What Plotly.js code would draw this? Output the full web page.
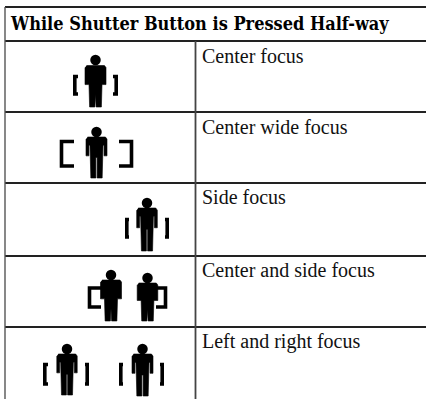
<!DOCTYPE html>
<html><head><meta charset="utf-8">
<script src="https://cdn.plot.ly/plotly-3.0.1.min.js"></script>
<style>html,body{margin:0;padding:0;background:#fff}</style></head>
<body><div id="c" style="width:426px;height:399px"></div>
<script>
const headerText = "While Shutter Button is Pressed Half-way";
const rowLabels = ["Center focus","Center wide focus","Side focus","Center and side focus","Left and right focus"];
const labelY = [55.5,126.5,197,269.5,341];
const rowLineY = [7,41,112,183,256,327];
const leftX = 5, midX = 195.5;

// figures: centre x, head y, shoulder y, foot y, half width, has slits
const figX = [95.5,96.5,147,111,147.5,67,142.5];
const figHead = [60,132,203,275,278,349,349];
const figShoulder = [65.5,137,208,280,283,354,354];
const figFoot = [107,178,251,321,321,395,396];
const figHalf = [10.5,10.5,10.3,10.5,10.3,10.2,10.5];
const figSlit = [0,1,1,0,0,1,1];

// brackets as open polylines
const bracketX = [
 [78,74.8,74.8,78],[113,116.2,116.2,113],
 [74,61.5,61.5,74],[119,131.5,131.5,119],
 [129,126.8,126.8,129],[165,167.2,167.2,165],
 [101,89.5,89.5,101],[156,165.5,165.5,156],
 [48,44.8,44.8,48],[85,87.2,87.2,85],
 [123,120.8,120.8,123],[160,162.2,162.2,160]];
const bracketY = [
 [76.5,76.5,94,94],[76.5,76.5,94,94],
 [141.5,141.5,166,166],[141.5,141.5,166,166],
 [219.5,219.5,237,237],[219.5,219.5,237,237],
 [288,288,307,307],[288,288,307,307],
 [364.5,364.5,384,384],[364.5,364.5,384,384],
 [364.5,364.5,384,384],[364.5,364.5,384,384]];

// silhouette outline: dx in half-widths, dy as fraction shoulder-to-foot
const solidDX = [-.85,.85,1,1,.62,.56,.06,0,-.06,-.56,-.62,-1,-1];
const solidDY = [0,0,.05,.46,.46,1,1,.7,1,1,.46,.46,.05];
const slitDX = [-.85,.85,1,1,.72,.72,.62,.54,.06,.06,-.06,-.06,-.54,-.62,-.72,-.72,-1,-1];
const slitDY = [0,0,.05,.46,.46,.2,.2,1,1,.5,.5,1,1,.2,.2,.46,.46,.05];

const ink = "#000";
const rule = "#222";
const traces = [];

rowLineY.forEach((y,i)=>traces.push({x:[leftX,426],y:[y,y],mode:"lines",line:{color:rule,width:1.8},hoverinfo:"skip"}));
traces.push({x:[leftX,leftX],y:[rowLineY[0],399],mode:"lines",line:{color:"#555",width:1.4},hoverinfo:"skip"});
traces.push({x:[midX,midX],y:[rowLineY[1],399],mode:"lines",line:{color:"#444",width:1.8},hoverinfo:"skip"});

bracketX.forEach((xs,i)=>traces.push({x:xs,y:bracketY[i],mode:"lines",line:{color:ink,width:3.6},hoverinfo:"skip"}));

figX.forEach((cx,i)=>{
  const dx = figSlit[i]?slitDX:solidDX, dy = figSlit[i]?slitDY:solidDY;
  traces.push({
    x:dx.map(d=>cx+d*figHalf[i]),
    y:dy.map(d=>figShoulder[i]+d*(figFoot[i]-figShoulder[i])),
    mode:"lines",fill:"toself",fillcolor:ink,line:{color:ink,width:0.6},hoverinfo:"skip"});
});
traces.push({x:figX,y:figHead,mode:"markers",marker:{color:ink,size:10.5,line:{width:0}},hoverinfo:"skip"});

const annotations = rowLabels.map((t,i)=>({
  text:t,x:200,y:labelY[i],xref:"x",yref:"y",xanchor:"left",yanchor:"middle",showarrow:false,
  font:{family:"Liberation Serif",size:20,color:"#111"}
}));
annotations.push({text:"<b>"+headerText+"</b>",x:8,y:23,xref:"x",yref:"y",xanchor:"left",yanchor:"middle",showarrow:false,
  font:{family:"DejaVu Serif Condensed, DejaVu Serif",size:18,color:"#000"}});

Plotly.newPlot("c",traces,{
  width:426,height:399,margin:{l:0,r:0,t:0,b:0},showlegend:false,
  paper_bgcolor:"#fff",plot_bgcolor:"#fff",
  xaxis:{range:[0,426],visible:false,fixedrange:true},
  yaxis:{range:[399,0],visible:false,fixedrange:true},
  annotations
},{displayModeBar:false,staticPlot:true});
</script></body></html>
